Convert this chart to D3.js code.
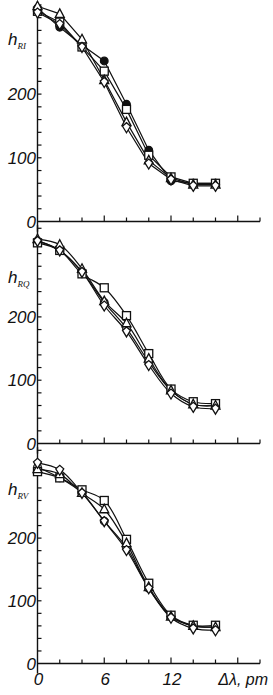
<!DOCTYPE html>
<html lang="en">
<head>
<meta charset="UTF-8">
<title>h vs delta lambda</title>
<script src="https://d3js.org/d3.v7.min.js"></script>
<style>
  body { margin: 0; background: #fff; }
  text { font-family: "Liberation Sans", Arial, sans-serif; fill: #111; }
</style>
</head>
<body>
<script>
// x positions (pm)
var dl = [0, 2, 4, 6, 8, 10, 12, 14, 16];

// panel RI
var riCircle   = [335, 305, 277, 252, 184, 112, 64, 60, 60];
var riSquare   = [330, 313, 274, 236, 176, 104, 70, 60, 60];
var riTriangle = [338, 326, 286, 222, 156, 96, 68, 58, 58];
var riDiamond  = [328, 310, 274, 219, 148, 91, 66, 56, 56];

// panel RQ
var rqCircle   = [320, 305, 271, 223, 182, 129, 84, 62, 60];
var rqSquare   = [317, 305, 268, 246, 202, 142, 86, 66, 63];
var rqTriangle = [323, 314, 276, 225, 190, 134, 84, 62, 60];
var rqDiamond  = [320, 305, 271, 218, 177, 124, 79, 58, 55];

// panel RV
var rvCircle   = [313, 296, 272, 227, 185, 120, 75, 60, 58];
var rvSquare   = [306, 296, 277, 260, 198, 128, 77, 61, 61];
var rvTriangle = [310, 302, 272, 246, 192, 122, 75, 60, 58];
var rvDiamond  = [320, 309, 272, 227, 181, 120, 73, 56, 53];

var yTickLabels = [0, 100, 200];
var xTickLabels = [0, 6, 12];

var w = 273, h = 695;

var svg = d3.select("body").append("svg")
    .attr("width", w)
    .attr("height", h);

var x = d3.scaleLinear().domain([0, 20]).range([37.5, 260]);

var panels = [
  {name: "RI", y0: 221.5, k: 0.637, filled: true, curve: d3.curveLinear,
   series: [riCircle, riSquare, riTriangle, riDiamond], lab: 40},
  {name: "RQ", y0: 443.5, k: 0.633, filled: false, curve: d3.curveCatmullRom,
   series: [rqCircle, rqSquare, rqTriangle, rqDiamond], lab: 53},
  {name: "RV", y0: 663.5, k: 0.627, filled: false, curve: d3.curveCatmullRom,
   series: [rvCircle, rvSquare, rvTriangle, rvDiamond], lab: 35}
];

var shapes = ["circle", "square", "triangle", "diamond"];

function marker(g, type, px, py, filled) {
  if (type == "circle") {
    g.append("circle").attr("cx", px).attr("cy", py).attr("r", 3.8)
      .attr("fill", filled ? "#111" : "#fff").attr("stroke", "#111").attr("stroke-width", 1.3);
  } else if (type == "square") {
    g.append("rect").attr("x", px - 4).attr("y", py - 4).attr("width", 8).attr("height", 8)
      .attr("fill", "#fff").attr("stroke", "#111").attr("stroke-width", 1.3);
  } else if (type == "triangle") {
    g.append("path").attr("d", "M" + px + "," + (py - 5) + "L" + (px + 4.5) + "," + (py + 3.5) + "L" + (px - 4.5) + "," + (py + 3.5) + "Z")
      .attr("fill", "#fff").attr("stroke", "#111").attr("stroke-width", 1.3);
  } else {
    g.append("path").attr("d", "M" + px + "," + (py + 5.5) + "L" + (px + 4) + "," + (py - 1) + "L" + px + "," + (py - 4.5) + "L" + (px - 4) + "," + (py - 1) + "Z")
      .attr("fill", "#fff").attr("stroke", "#111").attr("stroke-width", 1.3);
  }
}

panels.forEach(function(p, pi) {
  var y = d3.scaleLinear().domain([0, 300]).range([p.y0, p.y0 - 300 * p.k]);
  var g = svg.append("g");

  // y axis line
  g.append("line").attr("x1", x(0)).attr("x2", x(0))
    .attr("y1", y(-16)).attr("y2", y(345))
    .attr("stroke", "#111").attr("stroke-width", 1.4);
  // y minor ticks
  d3.range(20, 341, 20).forEach(function(v) {
    g.append("line").attr("x1", x(0)).attr("x2", x(0) + 4)
      .attr("y1", y(v)).attr("y2", y(v))
      .attr("stroke", "#111").attr("stroke-width", 1.2);
  });
  // x axis line
  g.append("line").attr("x1", x(0)).attr("x2", x(20))
    .attr("y1", y(0)).attr("y2", y(0))
    .attr("stroke", "#111").attr("stroke-width", 1.4);
  d3.range(2, 21, 2).forEach(function(v) {
    g.append("line").attr("x1", x(v)).attr("x2", x(v))
      .attr("y1", y(0)).attr("y2", y(0) - (v % 6 == 0 ? 6 : 4))
      .attr("stroke", "#111").attr("stroke-width", 1.2);
  });

  // y tick labels
  yTickLabels.forEach(function(v) {
    g.append("text").attr("x", 36).attr("y", y(v) + 6)
      .attr("text-anchor", "end").attr("font-size", 17).attr("font-style", "italic")
      .text(v);
  });

  // axis name h with subscript
  var t = g.append("text").attr("x", 8).attr("y", p.y0 - (p.y0 - (pi == 0 ? 0 : pi == 1 ? 225 : 455)) + p.lab + 5)
    .attr("font-size", 17).attr("font-style", "italic");
  t.append("tspan").text("h");
  t.append("tspan").attr("dy", 4).attr("font-size", 9)
    .attr("font-family", "Liberation Serif, serif").text("R" + p.name.charAt(1));

  // curves
  var line = d3.line().curve(p.curve)
    .x(function(d, i) { return x(dl[i]); })
    .y(function(d) { return y(d); });
  p.series.forEach(function(s) {
    g.append("path").attr("d", line(s))
      .attr("fill", "none").attr("stroke", "#111").attr("stroke-width", 1.2);
  });
  p.series.forEach(function(s, si) {
    s.forEach(function(v, i) {
      marker(g, shapes[si], x(dl[i]), y(v), si == 0 && p.filled);
    });
  });

  if (pi == 2) {
    xTickLabels.forEach(function(v) {
      g.append("text").attr("x", x(v) + 1).attr("y", y(0) + 21)
        .attr("text-anchor", "middle").attr("font-size", 17).attr("font-style", "italic")
        .text(v);
    });
    g.append("text").attr("x", 268).attr("y", y(0) + 21)
      .attr("text-anchor", "end").attr("font-size", 16).attr("font-style", "italic")
      .text("Δλ, pm");
  }
});
</script>
</body>
</html>
